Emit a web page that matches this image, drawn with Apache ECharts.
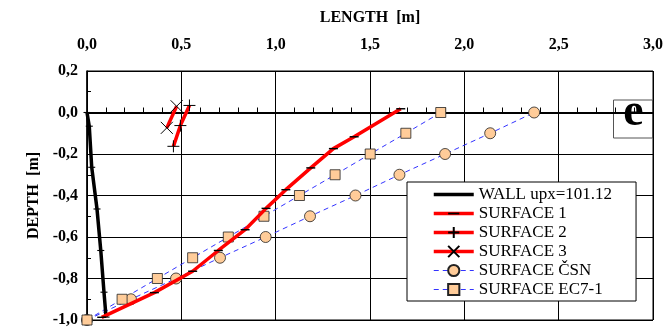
<!DOCTYPE html>
<html><head><meta charset="utf-8">
<script src="https://cdn.jsdelivr.net/npm/echarts@6/dist/echarts.min.js"></script>
<style>html,body{margin:0;padding:0;background:#fff}#c{width:667px;height:329px}</style>
</head><body><div id="c"></div>
<script>
// ---- data ----
const xTicks = [0, 0.5, 1.0, 1.5, 2.0, 2.5, 3.0];
const yTicks = [0.2, 0.0, -0.2, -0.4, -0.6, -0.8, -1.0];
const wallX = [0.0, 0.012, 0.025, 0.053, 0.073, 0.090, 0.101];
const wallY = [0.0, -0.066, -0.264, -0.465, -0.665, -0.866, -0.986];
const surf1X = [0.078, 0.357, 0.560, 0.696, 0.838, 0.949, 1.054, 1.186, 1.306, 1.416, 1.663];
const surf1Y = [-0.987, -0.868, -0.765, -0.665, -0.565, -0.462, -0.372, -0.267, -0.174, -0.117, 0.018];
const surf2X = [0.458, 0.495, 0.543];
const surf2Y = [-0.163, -0.063, 0.034];
const surf3X = [0.423, 0.475];
const surf3Y = [-0.074, 0.030];
const depthLevels = [-1.0, -0.9, -0.8, -0.7, -0.6, -0.5, -0.4, -0.3, -0.2, -0.1, 0.0];
const csnX = [0.0, 0.233, 0.472, 0.705, 0.947, 1.182, 1.423, 1.656, 1.898, 2.137, 2.370];
const ec7X = [0.0, 0.186, 0.373, 0.560, 0.749, 0.938, 1.126, 1.315, 1.501, 1.690, 1.875];
const names = ['WALL upx=101.12', 'SURFACE 1', 'SURFACE 2', 'SURFACE 3', 'SURFACE ČSN', 'SURFACE EC7-1'];

const zip = (a, b) => a.map((v, i) => [v, b[i]]);
const fmt = v => v.toFixed(1).replace('.', ',');
const serif = 'Liberation Serif';
const plus = 'path://M0,5L10,5M5,0L5,10';
const cross = 'path://M0,0L10,10M10,0L0,10';
// horizontal dash inside a square bounding box
const dash = 'path://M0,0M10,10M0,4.2L10,4.2L10,5.8L0,5.8Z';
const axisFont = { fontFamily: serif, fontWeight: 'bold', fontSize: 16, color: '#000' };

const chart = echarts.init(document.getElementById('c'));
chart.setOption({
  animation: false,
  backgroundColor: '#fff',
  grid: { left: 87, right: 14, top: 71, bottom: 9, show: true, borderColor: '#000', borderWidth: 1 },
  xAxis: [{
    type: 'value', min: xTicks[0], max: xTicks[xTicks.length - 1], interval: 0.5, position: 'top',
    name: 'LENGTH  [m]', nameLocation: 'middle', nameGap: 45, nameTextStyle: axisFont,
    axisLine: { show: false, onZero: false }, axisTick: { show: false },
    axisLabel: Object.assign({ formatter: fmt, margin: 18 }, axisFont),
    splitLine: { show: true, lineStyle: { color: '#000', width: 1 } }
  }, {
    type: 'value', min: xTicks[0], max: xTicks[xTicks.length - 1], interval: 0.5, position: 'bottom',
    axisLine: { show: true, onZero: true, onZeroAxisIndex: 0, lineStyle: { color: '#000', width: 2 } },
    axisTick: { show: true, inside: true, length: 5, lineStyle: { color: '#000', width: 1 } },
    minorTick: { show: true, splitNumber: 5, length: 5, lineStyle: { color: '#000', width: 1 } },
    axisLabel: { show: false }, splitLine: { show: false }
  }],
  yAxis: {
    type: 'value', min: yTicks[yTicks.length - 1], max: yTicks[0], interval: 0.2,
    name: 'DEPTH  [m]', nameLocation: 'middle', nameGap: 42, nameRotate: 90, nameTextStyle: axisFont,
    axisLine: { show: true, onZero: false, lineStyle: { color: '#000', width: 1.5 } },
    axisTick: { show: true, inside: true, length: 4, lineStyle: { color: '#000' } },
    minorTick: { show: true, splitNumber: 2, length: 4, lineStyle: { color: '#000' } },
    axisLabel: Object.assign({ formatter: fmt, margin: 9 }, axisFont),
    splitLine: { show: true, lineStyle: { color: '#000', width: 1 } }
  },
  legend: {
    orient: 'vertical', left: 407, top: 182, align: 'left',
    padding: [4, 24, 3, 25], itemWidth: 40, itemHeight: 14, itemGap: 2,
    backgroundColor: '#fff', borderColor: '#000', borderWidth: 1,
    textStyle: { fontFamily: serif, fontSize: 17, color: '#000', lineHeight: 17 },
    lineStyle: { width: 'inherit' },
    data: names
  },
  series: [
    { name: names[4], type: 'line', data: zip(csnX, depthLevels), z: 3,
      symbol: 'circle', symbolSize: 11,
      lineStyle: { color: '#3333ff', width: 1, type: [5, 4] },
      itemStyle: { color: '#ffcc99', borderColor: '#222', borderWidth: 0.8 } },
    { name: names[5], type: 'line', data: zip(ec7X, depthLevels), z: 3,
      symbol: 'rect', symbolSize: 10,
      lineStyle: { color: '#3333ff', width: 1, type: [5, 4] },
      itemStyle: { color: '#ffcc99', borderColor: '#222', borderWidth: 0.8 } },
    { name: names[0], type: 'line', data: zip(wallX, wallY), z: 4,
      symbol: dash, symbolSize: 7,
      lineStyle: { color: '#000', width: 3.5 },
      itemStyle: { color: '#000' } },
    { name: names[1], type: 'line', data: zip(surf1X, surf1Y), z: 4,
      symbol: dash, symbolSize: 9,
      lineStyle: { color: '#ff0000', width: 3.5 },
      itemStyle: { color: '#000' } },
    { name: names[2], type: 'line', data: zip(surf2X, surf2Y), z: 4,
      symbol: plus, symbolSize: 12,
      lineStyle: { color: '#ff0000', width: 3.5 },
      itemStyle: { color: 'transparent', borderColor: '#000', borderWidth: 1 } },
    { name: names[3], type: 'line', data: zip(surf3X, surf3Y), z: 4,
      symbol: cross, symbolSize: 12,
      lineStyle: { color: '#ff0000', width: 3.5 },
      itemStyle: { color: 'transparent', borderColor: '#000', borderWidth: 1 } }
  ],
  graphic: [{
    type: 'group', left: 613, top: 90, z: 100,
    children: [
      { type: 'rect', shape: { x: 0, y: 0, width: 39, height: 38 },
        style: { fill: '#fff', stroke: '#555', lineWidth: 1 } },
      { type: 'text', x: 20, y: 13,
        style: { text: 'e', fontFamily: serif, fontWeight: 'bold', fontSize: 46, fill: '#000',
                 textAlign: 'center', textVerticalAlign: 'middle' } }
    ]
  }]
});
</script></body></html>
